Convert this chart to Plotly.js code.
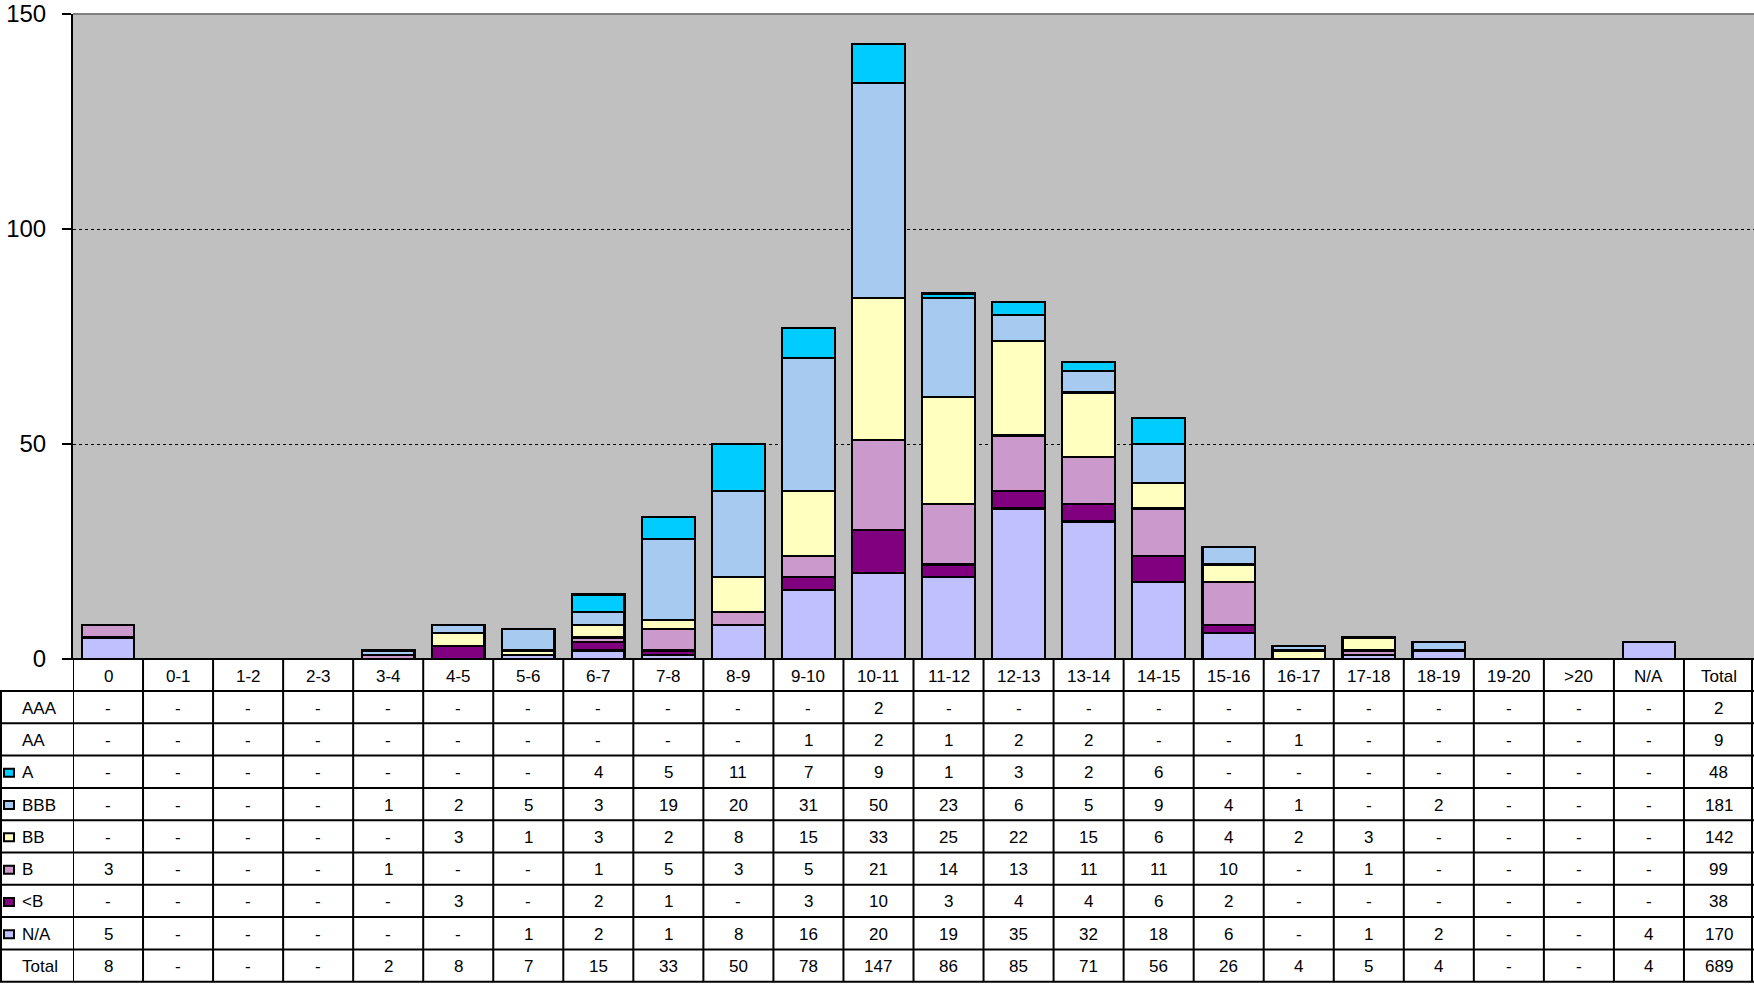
<!DOCTYPE html>
<html>
<head>
<meta charset="utf-8">
<script src="https://cdn.plot.ly/plotly-3.0.1.min.js"></script>
<style>html,body{margin:0;padding:0;background:#fff;}#chart{width:1754px;height:984px;}</style>
</head>
<body>
<div id="chart"></div>
<script>
// Categories (Total column has no bar)
var categories = ["0","0-1","1-2","2-3","3-4","4-5","5-6","6-7","7-8","8-9","9-10","10-11","11-12","12-13","13-14","14-15","15-16","16-17","17-18","18-19","19-20",">20","N/A","Total"];

// Series values (0 shown as "-")
var AAA  = [0,0,0,0,0,0,0,0,0,0,0,2,0,0,0,0,0,0,0,0,0,0,0, 2];
var AA   = [0,0,0,0,0,0,0,0,0,0,1,2,1,2,2,0,0,1,0,0,0,0,0, 9];
var A    = [0,0,0,0,0,0,0,4,5,11,7,9,1,3,2,6,0,0,0,0,0,0,0, 48];
var BBB  = [0,0,0,0,1,2,5,3,19,20,31,50,23,6,5,9,4,1,0,2,0,0,0, 181];
var BB   = [0,0,0,0,0,3,1,3,2,8,15,33,25,22,15,6,4,2,3,0,0,0,0, 142];
var B    = [3,0,0,0,1,0,0,1,5,3,5,21,14,13,11,11,10,0,1,0,0,0,0, 99];
var LTB  = [0,0,0,0,0,3,0,2,1,0,3,10,3,4,4,6,2,0,0,0,0,0,0, 38];
var NA   = [5,0,0,0,0,0,1,2,1,8,16,20,19,35,32,18,6,0,1,2,0,0,4, 170];
var TOTAL= [8,0,0,0,2,8,7,15,33,50,78,147,86,85,71,56,26,4,5,4,0,0,4, 689];

var rowNames = ["AAA","AA","A","BBB","BB","B","<B","N/A","Total"];
var rowData  = [AAA, AA, A, BBB, BB, B, LTB, NA, TOTAL];
var rowColors= [null, null, "#00CCFF", "#A6CAF0", "#FFFFC0", "#CC99CC", "#800080", "#C0C0FF", null];

// Drawn series (bottom to top)
var drawn = [
  {name:"N/A", data:NA,  color:"#C0C0FF"},
  {name:"<B",  data:LTB, color:"#800080"},
  {name:"B",   data:B,   color:"#CC99CC"},
  {name:"BB",  data:BB,  color:"#FFFFC0"},
  {name:"BBB", data:BBB, color:"#A6CAF0"},
  {name:"A",   data:A,   color:"#00CCFF"}
];

var W = 1754, H = 984;
var L = 73, T = 14, B0 = 659;         // plot area pixel bounds
var PW = W - L, PH = B0 - T;
function px(x){ return (x - L) / PW; }
function py(y){ return (B0 - y) / PH; }

var nCat = categories.length;
var traces = drawn.map(function(s){
  return {
    type: "bar",
    name: s.name,
    x: categories.slice(0, nCat - 1),
    y: s.data.slice(0, nCat - 1).map(function(v){ return v === 0 ? null : v; }),
    marker: {color: s.color, line: {color: "#000", width: 2.2}},
    hoverinfo: "x+y+name"
  };
});

var FONT = "Liberation Sans, Arial, sans-serif";
var shapes = [], annotations = [];

// top gray border
shapes.push({type:"line", xref:"paper", yref:"paper", x0:0, x1:1, y0:1, y1:1, line:{color:"#808080", width:2}});
// x axis line
shapes.push({type:"line", xref:"paper", yref:"paper", x0:px(64), x1:px(W), y0:0, y1:0, line:{color:"#000", width:2}});

var headerTop = B0, headerBot = 691, rowH = 32.3;
var tableBot = headerBot + rowH * rowNames.length;

// vertical lines between categories
for (var k = 0; k <= nCat; k++) {
  var xv = k - 0.5;
  var xr = "x";
  if (k === nCat) { xr = "paper"; xv = px(W - 2); }
  shapes.push({type:"line", xref:xr, yref:"paper", x0:xv, x1:xv, y0:py(headerTop), y1:py(tableBot), line:{color:"#000", width:2}});
}
// left border of label column
shapes.push({type:"line", xref:"paper", yref:"paper", x0:px(1), x1:px(1), y0:py(headerBot), y1:py(tableBot), line:{color:"#000", width:2}});
// horizontal lines
for (var r = 0; r <= rowNames.length; r++) {
  var yy = headerBot + rowH * r;
  shapes.push({type:"line", xref:"paper", yref:"paper", x0:px(0), x1:px(W), y0:py(yy), y1:py(yy), line:{color:"#000", width:2}});
}

// header labels
categories.forEach(function(c, i){
  annotations.push({xref:"x", yref:"paper", x:i, y:py((headerTop + headerBot)/2 + 1), text:c, showarrow:false,
    font:{family:FONT, size:17, color:"#000"}, xanchor:"center", yanchor:"middle"});
});

// rows
rowNames.forEach(function(name, r){
  var yc = headerBot + rowH * (r + 0.5) + 1;
  annotations.push({xref:"paper", yref:"paper", x:px(20), y:py(yc), text:name.replace("<","&lt;"), showarrow:false,
    font:{family:FONT, size:17, color:"#000"}, xanchor:"left", yanchor:"middle"});
  if (rowColors[r]) {
    shapes.push({type:"rect", xref:"paper", yref:"paper", x0:px(4), x1:px(14), y0:py(yc - 4), y1:py(yc + 4),
      fillcolor:rowColors[r], line:{color:"#000", width:2}});
  }
  rowData[r].forEach(function(v, i){
    annotations.push({xref:"x", yref:"paper", x:i, y:py(yc), text: v === 0 ? "-" : String(v), showarrow:false,
      font:{family:FONT, size:17, color:"#000"}, xanchor:"center", yanchor:"middle"});
  });
});

var layout = {
  width: W, height: H,
  margin: {l: L, r: 0, t: T, b: H - B0, pad: 0},
  paper_bgcolor: "#ffffff",
  plot_bgcolor: "#C0C0C0",
  barmode: "stack",
  bargap: 0.25,
  showlegend: false,
  xaxis: {type:"category", range:[-0.5, nCat - 0.5], showticklabels:false, ticks:"", showgrid:false, zeroline:false, showline:false, fixedrange:true},
  yaxis: {range:[0,150], tickvals:[0,50,100,150], ticks:"outside", ticklen:9, tickwidth:2, tickcolor:"#000",
    showline:true, linecolor:"#000", linewidth:2, showgrid:true, gridcolor:"#000", gridwidth:1, griddash:"dot",
    zeroline:false, ticklabelstandoff:11, ticklabeloverflow:"allow", tickfont:{family:FONT, size:24, color:"#000"}, fixedrange:true},
  shapes: shapes,
  annotations: annotations
};

Plotly.newPlot("chart", traces, layout, {displayModeBar:false, staticPlot:true});
</script>
</body>
</html>
